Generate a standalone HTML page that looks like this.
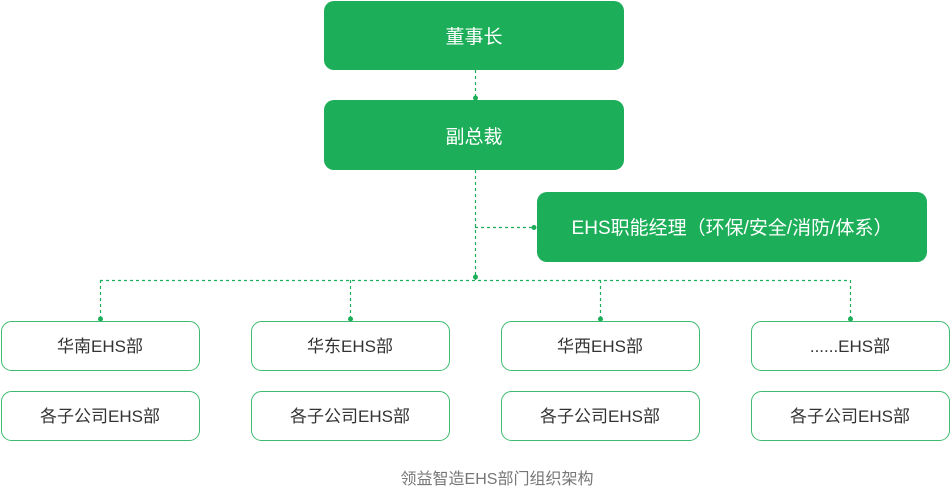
<!DOCTYPE html>
<html><head><meta charset="utf-8"><style>
html,body{margin:0;padding:0;background:#fff;width:950px;height:488px;overflow:hidden}
svg text{font-family:"Liberation Sans","Noto Sans CJK SC",sans-serif}
</style></head><body>
<svg width="950" height="488" viewBox="0 0 950 488" xmlns="http://www.w3.org/2000/svg">
<g fill="#1cae58">
<rect x="324" y="1" width="300" height="69" rx="10"/>
<rect x="324" y="100" width="300" height="70" rx="10"/>
<rect x="537" y="192" width="390" height="70" rx="10"/>
</g>
<g stroke="#1cae58" stroke-width="1.2" stroke-dasharray="3,3" fill="none">
<line x1="475.5" y1="70" x2="475.5" y2="98"/>
<line x1="475.5" y1="170" x2="475.5" y2="280"/>
<line x1="475" y1="227.5" x2="534" y2="227.5"/>
<line x1="100" y1="280.5" x2="850" y2="280.5"/>
<line x1="100.5" y1="280" x2="100.5" y2="319"/>
<line x1="350.5" y1="280" x2="350.5" y2="319"/>
<line x1="600.5" y1="280" x2="600.5" y2="319"/>
<line x1="850.5" y1="280" x2="850.5" y2="319"/>
</g>
<g fill="#1cae58">
<circle cx="475.5" cy="98" r="2.5"/>
<circle cx="534" cy="227.5" r="2.5"/>
<circle cx="475.5" cy="277" r="2.5"/>
<circle cx="100.5" cy="319" r="2.5"/>
<circle cx="350.5" cy="319" r="2.5"/>
<circle cx="600.5" cy="319" r="2.5"/>
<circle cx="850.5" cy="319" r="2.5"/>
</g>
<g fill="#fff" stroke="#3dbb6e" stroke-width="1">
<rect x="1.5" y="321.5" width="198" height="49" rx="10"/>
<rect x="251.5" y="321.5" width="198" height="49" rx="10"/>
<rect x="501.5" y="321.5" width="198" height="49" rx="10"/>
<rect x="751.5" y="321.5" width="198" height="49" rx="10"/>
<rect x="1.5" y="391.5" width="198" height="49" rx="10"/>
<rect x="251.5" y="391.5" width="198" height="49" rx="10"/>
<rect x="501.5" y="391.5" width="198" height="49" rx="10"/>
<rect x="751.5" y="391.5" width="198" height="49" rx="10"/>
</g>
<g fill="#fff" font-size="19" text-anchor="middle">
<text x="474" y="43">董事长</text>
<text x="474" y="143">副总裁</text>
<text x="732" y="234">EHS职能经理（环保/安全/消防/体系）</text>
</g>
<g fill="#333" font-size="17" text-anchor="middle">
<text x="100" y="352">华南EHS部</text>
<text x="350" y="352">华东EHS部</text>
<text x="600" y="352">华西EHS部</text>
<text x="850" y="352">......EHS部</text>
<text x="100" y="422">各子公司EHS部</text>
<text x="350" y="422">各子公司EHS部</text>
<text x="600" y="422">各子公司EHS部</text>
<text x="850" y="422">各子公司EHS部</text>
</g>
<text x="497" y="484" fill="#777" font-size="16" text-anchor="middle">领益智造EHS部门组织架构</text>
</svg>
</body></html>
